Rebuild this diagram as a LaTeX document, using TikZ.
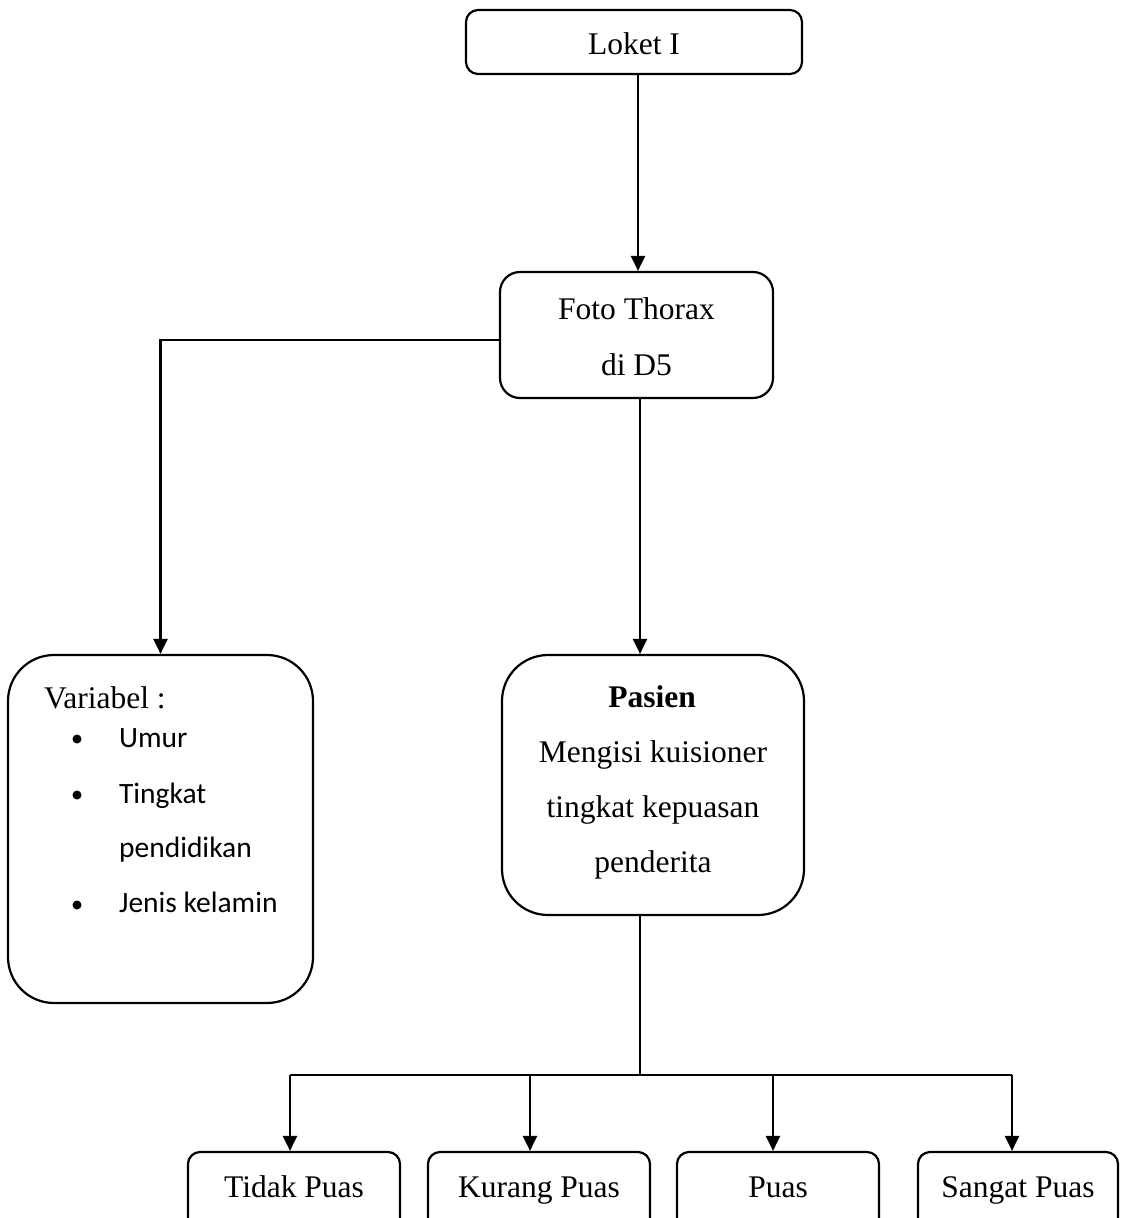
\documentclass[tikz,border=0pt]{standalone}
\usepackage{fontspec}
\setmainfont{Liberation Serif}
\newfontfamily\calib{Carlito}
\usetikzlibrary{arrows.meta}
\begin{document}
\begin{tikzpicture}[x=1pt,y=-1pt,line width=2.2pt,
  box/.style={draw,inner sep=0pt},
  txt/.style={anchor=base,inner sep=0pt,font=\fontsize{31.5}{37}\selectfont},
  ctxt/.style={anchor=base west,inner sep=0pt,font=\calib\fontsize{29.5}{34}\selectfont},
  arr/.style={-{Triangle[length=15pt,width=14pt]}}]
\useasboundingbox (0,0) rectangle (1132,1218);
\begin{scope}
\clip (0,0) rectangle (1132,1218);
% boxes
\node[box,rounded corners=12pt,minimum width=336pt,minimum height=64pt] (loket) at (634,42) {};
\node[box,rounded corners=20pt,minimum width=273pt,minimum height=126pt] (foto) at (636.5,335) {};
\node[box,rounded corners=46pt,minimum width=305pt,minimum height=348pt] (var) at (160.5,829) {};
\node[box,rounded corners=46pt,minimum width=302pt,minimum height=260pt] (pas) at (653,785) {};
\node[box,rounded corners=12pt,minimum width=212pt,minimum height=100pt] (b1) at (294,1202) {};
\node[box,rounded corners=12pt,minimum width=222pt,minimum height=100pt] (b2) at (539,1202) {};
\node[box,rounded corners=12pt,minimum width=202pt,minimum height=100pt] (b3) at (778,1202) {};
\node[box,rounded corners=12pt,minimum width=200pt,minimum height=100pt] (b4) at (1018,1202) {};
\end{scope}
% texts
\node[txt] (t0) at (634,54) {Loket I};
\node[txt] (t1) at (636.5,319) {Foto Thorax};
\node[txt] (t2) at (636.5,375) {di D5};
\node[txt] (p1) at (652,707) {\bfseries Pasien};
\node[txt] (p2) at (653,762) {Mengisi kuisioner};
\node[txt] (p3) at (653,817) {tingkat kepuasan};
\node[txt] (p4) at (653,872) {penderita};
\node[txt,anchor=base west] (v0) at (43,708) {Variabel :};
\node[ctxt] (v1) at (118,747) {Umur};
\node[ctxt] (v2) at (118,803) {Tingkat};
\node[ctxt] (v3) at (118,857) {pendidikan};
\node[ctxt] (v4) at (118,912) {Jenis kelamin};
\fill (77,739) circle (4.5pt) (77,795) circle (4.5pt) (77,905) circle (4.5pt);
\node[txt] (l1) at (294,1197) {Tidak Puas};
\node[txt] (l2) at (539,1197) {Kurang Puas};
\node[txt] (l3) at (778,1197) {Puas};
\node[txt] (l4) at (1018,1197) {Sangat Puas};
% connectors
\draw[arr] (loket.south -| 638,0) -- (foto.north -| 638,0);
\draw[arr] ([yshift=-5pt]foto.west) -| (var.north);
\draw[arr] (foto.south -| 640,0) -- (pas.north -| 640,0);
\draw (pas.south -| 640,0) -- (640,1075) coordinate (bar);
\draw (290,1075) -- (1012,1075);
\draw[arr] (290,1075) -- (b1.north -| 290,0);
\draw[arr] (530,1075) -- (b2.north -| 530,0);
\draw[arr] (773,1075) -- (b3.north -| 773,0);
\draw[arr] (1012,1075) -- (b4.north -| 1012,0);
\end{tikzpicture}
\end{document}
